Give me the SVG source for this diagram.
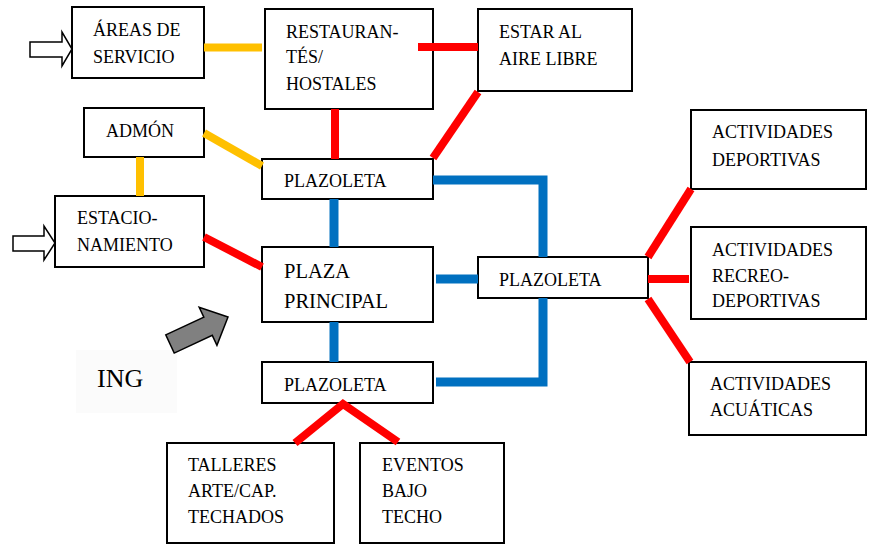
<svg xmlns="http://www.w3.org/2000/svg" width="869" height="544" viewBox="0 0 869 544" font-family="'Liberation Serif', 'DejaVu Serif', serif">
<style>
.box{fill:#fff;stroke:#000;stroke-width:2}
.t{font-size:18px;fill:#000}
.y{stroke:#FFC000;stroke-width:8;fill:none}
.r{stroke:#FF0000;stroke-width:8;fill:none}
.b{stroke:#0070C0;stroke-width:9;fill:none}
.ha{fill:#fff;stroke:#000;stroke-width:1.5}
</style>
<rect width="869" height="544" fill="#fff"/>
<rect x="76" y="350" width="101" height="63" fill="#fbfbfb"/>
<g id="areas"><rect class="box" x="72" y="7" width="132" height="71"/><text class="t" x="93" y="36">ÁREAS DE</text><text class="t" x="93" y="63">SERVICIO</text></g>
<g id="restaurantes"><rect class="box" x="265" y="9" width="168" height="100"/><text class="t" x="286" y="38">RESTAURAN-</text><text class="t" x="286" y="63">TÉS/</text><text class="t" x="286" y="90">HOSTALES</text></g>
<g id="estar"><rect class="box" x="478" y="9" width="154" height="82"/><text class="t" x="499" y="38">ESTAR AL</text><text class="t" x="499" y="65">AIRE LIBRE</text></g>
<g id="admon"><rect class="box" x="84" y="108" width="120" height="49"/><text class="t" x="106" y="137">ADMÓN</text></g>
<g id="plazoleta1"><rect class="box" x="262" y="159" width="171" height="40"/><text class="t" x="284" y="187">PLAZOLETA</text></g>
<g id="estacionamiento"><rect class="box" x="55" y="196" width="149" height="71"/><text class="t" x="77" y="224">ESTACIO-</text><text class="t" x="77" y="251">NAMIENTO</text></g>
<g id="plaza"><rect class="box" x="262" y="247" width="171" height="75"/><text class="t" x="284" y="278" style="font-size:20.5px">PLAZA</text><text class="t" x="284" y="308" style="font-size:20.5px">PRINCIPAL</text></g>
<g id="plazoleta2"><rect class="box" x="262" y="362" width="171" height="41"/><text class="t" x="284" y="391">PLAZOLETA</text></g>
<g id="plazoleta3"><rect class="box" x="478" y="257" width="170" height="41"/><text class="t" x="499" y="286">PLAZOLETA</text></g>
<g id="deportivas"><rect class="box" x="691" y="110" width="175" height="79"/><text class="t" x="712" y="138">ACTIVIDADES</text><text class="t" x="712" y="166">DEPORTIVAS</text></g>
<g id="recreo"><rect class="box" x="691" y="227" width="175" height="92"/><text class="t" x="712" y="256">ACTIVIDADES</text><text class="t" x="712" y="282">RECREO-</text><text class="t" x="712" y="307">DEPORTIVAS</text></g>
<g id="acuaticas"><rect class="box" x="689" y="362" width="177" height="73"/><text class="t" x="710" y="390">ACTIVIDADES</text><text class="t" x="710" y="416">ACUÁTICAS</text></g>
<g id="talleres"><rect class="box" x="167" y="443" width="167" height="100"/><text class="t" x="188" y="471">TALLERES</text><text class="t" x="188" y="497">ARTE/CAP.</text><text class="t" x="188" y="523">TECHADOS</text></g>
<g id="eventos"><rect class="box" x="360" y="443" width="144" height="100"/><text class="t" x="382" y="471">EVENTOS</text><text class="t" x="382" y="497">BAJO</text><text class="t" x="382" y="523">TECHO</text></g>
<g id="connectors">
<line class="y" x1="204" y1="47.5" x2="262" y2="47.5"/>
<line class="y" x1="204" y1="133" x2="262" y2="166"/>
<line class="y" x1="140" y1="157" x2="140" y2="196"/>
<line class="r" x1="418" y1="47" x2="478" y2="47"/>
<line class="r" x1="335" y1="109" x2="335" y2="159"/>
<line class="r" x1="478" y1="92" x2="433" y2="158"/>
<line class="r" x1="204" y1="237" x2="262" y2="267"/>
<line class="b" x1="334" y1="199" x2="334" y2="247"/>
<line class="b" x1="334" y1="322" x2="334" y2="362"/>
<polyline class="b" points="433,180 543,180 543,257"/>
<line class="b" x1="436" y1="279" x2="478" y2="279"/>
<polyline class="b" points="436,382 543,382 543,298"/>
<line class="r" x1="648" y1="257" x2="691" y2="189"/>
<line class="r" x1="648" y1="279" x2="689" y2="279"/>
<line class="r" x1="648" y1="299" x2="690" y2="362"/>
<polyline class="r" points="295,443 343,404 398,442"/>
</g>
<polygon class="ha" points="30,42 62,42 62,32 72,49 62,66 62,57 30,57"/>
<polygon class="ha" points="13,236 44,236 44,226 55,243 44,260 44,251 13,251"/>
<polygon points="0,-10 42,-10 42,-21 64,0 42,21 42,10 0,10" transform="translate(170,344) rotate(-25)" fill="#808080" stroke="#000" stroke-width="1.5"/>
<text x="97" y="387" font-size="26">ING</text>
</svg>
